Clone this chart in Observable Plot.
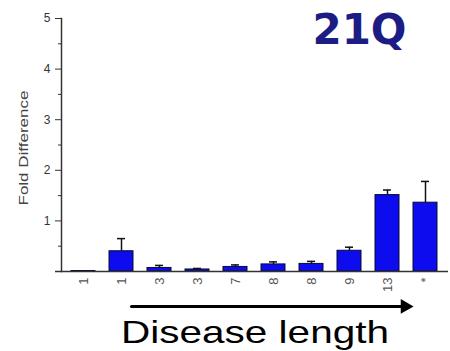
<!DOCTYPE html>
<html>
<head>
<meta charset="utf-8">
<script src="https://cdn.jsdelivr.net/npm/d3@7"></script>
<script src="https://cdn.jsdelivr.net/npm/@observablehq/plot@0.6"></script>
<style>
  html, body { margin: 0; padding: 0; background: #fff; }
  #chart { width: 450px; height: 351px; }
</style>
</head>
<body>
<div id="chart"></div>
<script>
// ---- data ----
const categories = ["1", "1", "3", "3", "7", "8", "8", "9", "13", "*"];
const foldDiff   = [0.01, 0.40, 0.07, 0.04, 0.09, 0.14, 0.15, 0.41, 1.51, 1.36];
const errUp      = [0.00, 0.25, 0.05, 0.02, 0.04, 0.05, 0.05, 0.07, 0.10, 0.42];
const yMajorTicks = [1, 2, 3, 4, 5];
const yMinorTicks = [0.5, 1.5, 2.5, 3.5, 4.5];
const titleText = "21Q";
const yLabel = "Fold Difference";
const xLabel = "Disease length";

const data = categories.map((c, i) => ({i, label: c, v: foldDiff[i], e: errUp[i]}));
const withErr = data.filter(d => d.e > 0);
const arrowSpan = [{a: 1, b: categories.length - 1, y: -0.69}];

const chart = Plot.plot({
  width: 450,
  height: 351,
  marginLeft: 61,
  marginRight: 2,
  marginTop: 18,
  marginBottom: 80,
  style: {background: "#fff", fontFamily: "Liberation Sans, Arial, sans-serif"},
  x: {domain: d3.range(categories.length), paddingInner: 0.366, paddingOuter: 0.21, axis: null},
  y: {domain: [0, 5], axis: null},
  marks: [
    Plot.barY(data, {x: "i", y: "v", fill: "#0c0cee", stroke: "#0a0a30", strokeWidth: 1}),
    Plot.ruleX(withErr, {x: "i", y1: "v", y2: d => d.v + d.e, stroke: "#111", strokeWidth: 1.5}),
    Plot.tickY(withErr, {x: "i", y: d => d.v + d.e, stroke: "#111", strokeWidth: 1.5, insetLeft: 8, insetRight: 8}),
    Plot.ruleY([0], {stroke: "#333", strokeWidth: 1.5, insetLeft: -6}),
    Plot.frame({anchor: "left", stroke: "#333", strokeWidth: 1.5}),
    Plot.axisY({ticks: yMajorTicks, tickSize: 6, tickPadding: 5, fontSize: 12, color: "#333",
                tickFormat: "d", label: null}),
    Plot.axisY({ticks: yMinorTicks, tickSize: 3, tickFormat: () => "", color: "#333", label: null}),
    Plot.axisX({tickRotate: -90, tickSize: 0, tickPadding: 6, fontSize: 13, color: "#555",
                tickFormat: i => categories[i], label: null}),
    Plot.text([yLabel], {frameAnchor: "left", textAnchor: "middle", rotate: -90, dx: -38, dy: 3,
                fontSize: 13, fill: "#444"}),
    Plot.text([titleText], {frameAnchor: "top", textAnchor: "middle", lineAnchor: "bottom",
                dx: 104.5, dy: 25.5, fontSize: 42, fontWeight: "bold", fill: "#1c1c85",
                fontFamily: "DejaVu Sans, Verdana, sans-serif"}),
    Plot.arrow(arrowSpan, {x1: "a", x2: "b", y1: "y", y2: "y", stroke: "#000",
                strokeWidth: 3, headLength: 0, insetStart: 10, insetEnd: 22}),
    Plot.dot(arrowSpan, {x: "b", y: "y", symbol: "triangle", rotate: 90, r: 5.5,
                fill: "#000", stroke: "none", dx: -20.5}),
    Plot.text([xLabel], {frameAnchor: "bottom", textAnchor: "middle", lineAnchor: "bottom",
                dy: 71, fontSize: 32, fill: "#000"})
  ]
});

const sel = d3.select(chart);
sel.selectAll("text").filter(function() { return this.textContent === xLabel; })
  .attr("textLength", 268).attr("lengthAdjust", "spacingAndGlyphs");
sel.selectAll("text").filter(function() { return this.textContent === yLabel; })
  .attr("textLength", 115).attr("lengthAdjust", "spacingAndGlyphs");
document.getElementById("chart").appendChild(chart);
</script>
</body>
</html>
